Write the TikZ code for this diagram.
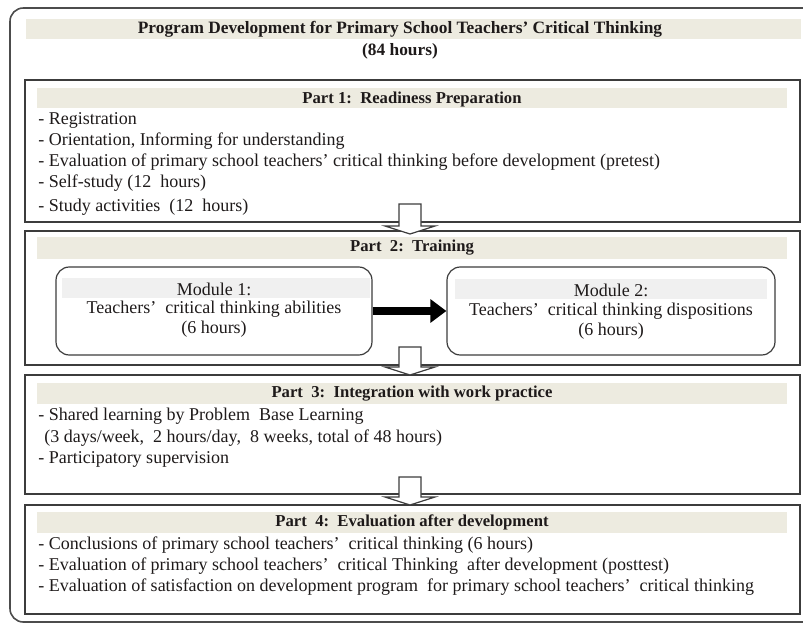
\documentclass[tikz,border=0pt]{standalone}
\usepackage{fontspec}
\setmainfont{Liberation Serif}
\usetikzlibrary{arrows.meta,calc}

\definecolor{bandtan}{HTML}{EDEBE0}
\definecolor{bandgray}{HTML}{F0F0F0}
\definecolor{boxline}{HTML}{3C3C3C}
\definecolor{inktext}{HTML}{1E1A1A}

\tikzset{
  partbox/.style={draw=boxline, line width=1.1pt, inner sep=0pt},
  modbox/.style={draw=boxline, line width=0.9pt, rounded corners=10pt, inner sep=0pt},
  heading/.style={font=\bfseries\fontsize{13}{15}\selectfont, text=inktext, inner sep=0pt},
  parthead/.style={font=\bfseries\fontsize{12.5}{15}\selectfont, text=inktext, inner sep=0pt},
  item/.style={anchor=west, font=\fontsize{13.5}{15}\selectfont, text=inktext, inner sep=0pt},
  modtext/.style={font=\fontsize{13.5}{15}\selectfont, text=inktext, inner sep=0pt},
  hollow/.style={draw=boxline, line width=0.9pt, fill=white, line join=miter},
}

% block arrow pointing down: #1 top of stem, #2 tip
\newcommand{\hollowdown}[2]{%
  \draw[hollow] let \p1=(#1), \p2=(#2) in
    (\x2-8.25pt,\y1) -- (\x2+8.25pt,\y1) -- (\x2+8.25pt,\y2+6pt) -- (\x2+18.75pt,\y2+6pt)
    -- (\x2,\y2) -- (\x2-18.75pt,\y2+6pt) -- (\x2-8.25pt,\y2+6pt) -- cycle;}

\begin{document}
\begin{tikzpicture}[x=0.75pt, y=-0.75pt]
    \useasboundingbox (0,0) rectangle (803,624);

    % outer frame and title
    \draw[draw=gray!60!black, line width=1.2pt, rounded corners=10pt] (10,8) rectangle (840,622);
    \fill[bandtan] (26,19) rectangle (801,39);
    \node[heading] (title) at (400,29) {Program Development for Primary School Teachers' Critical Thinking};
    \node[heading] (total) at (400,51) {(84 hours)};

    % the four parts
    \node[partbox, minimum width=581.25pt, minimum height=106.5pt] (p1) at (412.5,151) {};
    \node[partbox, minimum width=581.25pt, minimum height=100.5pt] (p2) at (412.5,298) {};
    \node[partbox, minimum width=581.25pt, minimum height=89.25pt] (p3) at (412.5,434.5) {};
    \node[partbox, minimum width=581.25pt, minimum height=81.75pt] (p4) at (412.5,559.5) {};

    \foreach \top/\bot in {88/108, 237/259, 383/404, 512/533}
        \fill[bandtan] (37,\top) rectangle (787,\bot);

    \node[parthead] (h1) at (412,99) {Part 1:\ \ Readiness Preparation};
    \node[parthead] (h2) at (412,248) {Part\ \ 2:\ \ Training};
    \node[parthead] (h3) at (412,394) {Part\ \ 3:\ \ Integration with work practice};
    \node[parthead] (h4) at (412,522) {Part\ \ 4:\ \ Evaluation after development};

    % part 1 items
    \foreach \y/\txt in {120/{- Registration},
                         141/{- Orientation, Informing for understanding},
                         162/{- Evaluation of primary school teachers' critical thinking before development (pretest)},
                         183/{- Self-study (12\ \ hours)},
                         207/{- Study activities\ \ (12\ \ hours)}}
        \node[item] at (38,\y) {\txt};

    % part 2 modules
    \node[modbox, minimum width=237pt, minimum height=66pt] (m1) at (214,311) {};
    \node[modbox, minimum width=246pt, minimum height=66pt] (m2) at (611,311) {};
    \fill[bandgray] (62,278) rectangle (370,298);
    \fill[bandgray] (455,279) rectangle (767,299);
    \node[modtext] at (214,289) {Module 1:};
    \node[modtext] at (214,309) {Teachers'\ \ critical thinking abilities};
    \node[modtext] at (214,329) {(6 hours)};
    \node[modtext] at (611,290) {Module 2:};
    \node[modtext] at (611,311) {Teachers'\ \ critical thinking dispositions};
    \node[modtext] at (611,331) {(6 hours)};
    \draw[line width=5.5pt, -{Triangle[length=12pt, width=17pt]}] (m1.east) -- (m2.west);

    % part 3 items
    \foreach \x/\y/\txt in {38/416/{- Shared learning by Problem\ \ Base Learning},
                            44/438/{(3 days/week,\ \ 2 hours/day,\ \ 8 weeks, total of 48 hours)},
                            38/459/{- Participatory supervision}}
        \node[item] at (\x,\y) {\txt};

    % part 4 items
    \foreach \y/\txt in {545/{- Conclusions of primary school teachers'\ \ critical thinking (6 hours)},
                         566/{- Evaluation of primary school teachers'\ \ critical Thinking\ \ after development (posttest)},
                         587/{- Evaluation of satisfaction on development program\ \ for primary school teachers'\ \ critical thinking}}
        \node[item] at (38,\y) {\txt};

    % block arrows between parts
    \coordinate (s1) at (410,204); \coordinate (t1) at (410,234);
    \coordinate (s2) at (410,347); \coordinate (t2) at (410,375);
    \coordinate (s3) at (410,477); \coordinate (t3) at (410,505);
    \hollowdown{s1}{t1}
    \hollowdown{s2}{t2}
    \hollowdown{s3}{t3}
\end{tikzpicture}
\end{document}
